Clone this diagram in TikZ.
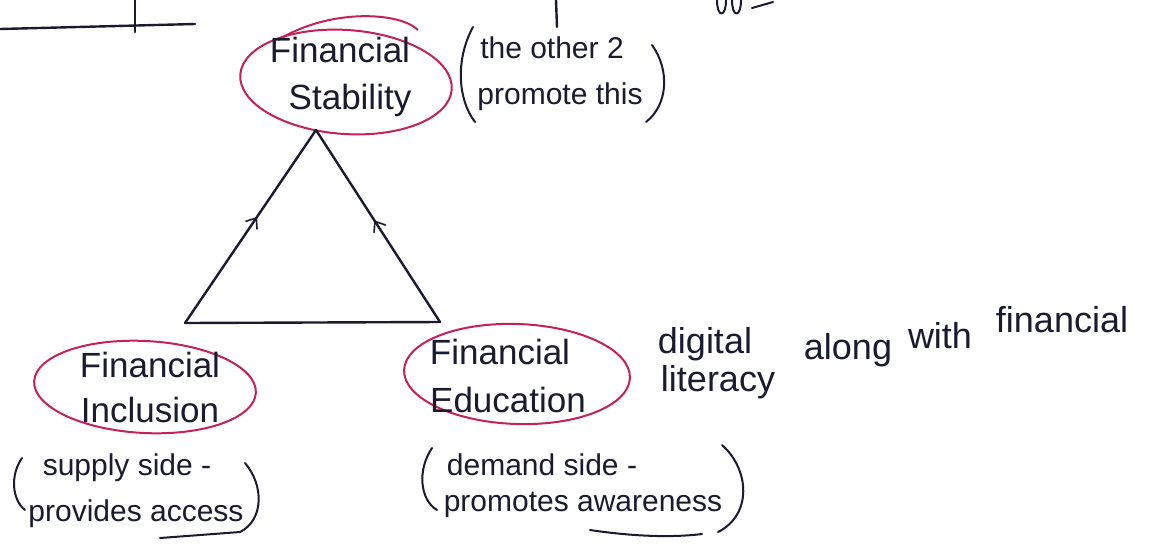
\documentclass[tikz,border=0pt]{standalone}
\usepackage{fontspec}
\setmainfont{Liberation Sans}
\usetikzlibrary{decorations.markings,arrows.meta,shapes.geometric}
\definecolor{ink}{HTML}{1A1A30}
\definecolor{rim}{HTML}{C4205A}
\tikzset{
  x=1pt,y=-1pt,
  hand/.style={text=ink,font=\fontsize{32}{36}\selectfont,inner sep=0pt,anchor=center},
  head/.style={hand,font=\fontsize{35}{40}\selectfont},
  note/.style={hand,font=\fontsize{30}{34}\selectfont},
  big/.style={hand,font=\fontsize{36}{40}\selectfont},
  ring/.style={draw=rim,line width=2pt},
  stroke/.style={draw=ink,line width=2.4pt,line cap=round,line join=round},
  midarrow/.style={postaction={decorate},decoration={markings,mark=at position #1 with {\arrow{Straight Barb[length=9pt,width=14pt,line width=1.6pt]}}}}
}
\begin{document}
\begin{tikzpicture}
\useasboundingbox[fill=white] (0,0) rectangle (1153,547);
% top fragments
\coordinate (ul1) at (0,29);
\coordinate (ul2) at (195,24);
\draw[stroke] (ul1) -- (ul2);
\coordinate (t1) at (135,0); \coordinate (t2) at (135,32);
\draw[stroke] (t1) -- (t2);
\coordinate (t3) at (556,0); \coordinate (t4) at (557,27);
\draw[stroke] (t3) -- (t4);
\coordinate (t5) at (717,0); \coordinate (t6) at (732,0);
\draw[stroke,line width=2pt] (t5) .. controls (717,18) and (726,18) .. (726,0);
\draw[stroke,line width=2pt] (t6) .. controls (732,18) and (741,18) .. (741,0);
\coordinate (t7) at (752,8); \coordinate (t8) at (773,2);
\draw[stroke,line width=2pt] (t7) -- (t8);

% Financial Stability
\node[ring,ellipse,minimum width=212pt,minimum height=104pt,rotate=-4] (fs) at (346,82) {};
\draw[ring] (278,40) .. controls (330,8) and (400,12) .. (418,30);
\node[head] (fs1) at (340,50) {Financial};
\node[head] (fs2) at (350,100) {Stability};
\node[note] (fsn1) at (552,48) {the other 2};
\node[note] (fsn2) at (560,97) {promote this};
\draw[stroke,line width=2pt] (473,27) .. controls (455,60) and (458,100) .. (475,122);
\draw[stroke,line width=2pt] (652,45) .. controls (670,70) and (668,105) .. (646,122);

% Financial Inclusion
\node[ring,ellipse,minimum width=222pt,minimum height=92pt,rotate=-3] (fi) at (145,387) {};
\node[head] (fi1) at (150,365) {Financial};
\node[head] (fi2) at (150,410) {Inclusion};
\node[note] (fin1) at (127,468) {supply side -};
\node[note] (fin2) at (136,514) {provides access};
\draw[stroke,line width=2pt] (22,458) .. controls (10,475) and (12,500) .. (25,510);
\draw[stroke,line width=2pt] (245,463) .. controls (264,485) and (264,520) .. (240,532);
\coordinate (u1a) at (160,538); \coordinate (u1b) at (240,532);
\draw[stroke,line width=2pt] (u1a) -- (u1b);

% Financial Education
\node[ring,ellipse,minimum width=226pt,minimum height=100pt,rotate=-2] (fe) at (517,374) {};
\node[head] (fe1) at (500,352) {Financial};
\node[head] (fe2) at (508,400) {Education};
\node[note] (fen1) at (542,465) {demand side -};
\node[note] (fen2) at (583,505) {promotes awareness};
\draw[stroke,line width=2pt] (432,448) .. controls (417,470) and (420,500) .. (437,510);
\draw[stroke,line width=2pt] (722,445) .. controls (750,470) and (752,515) .. (718,532);
\coordinate (u2a) at (590,530); \coordinate (u2b) at (702,534);
\draw[stroke,line width=2pt] (u2a) .. controls (630,536) and (670,538) .. (u2b);

% digital literacy note
\node[big] (d1) at (705,344) {digital};
\node[big] (d2) at (718,382) {literacy};
\node[big] (d3) at (848,350) {along};
\node[big] (d4) at (940,336) {with};
\node[big] (d5) at (1062,320) {financial};

% triangle
\coordinate (A) at (316,130);
\coordinate (B) at (185,323);
\coordinate (C) at (440,322);
\draw[stroke,midarrow=0.55] (B) -- (A);
\draw[stroke,midarrow=0.53] (C) -- (A);
\draw[stroke] (B) -- (C);
\end{tikzpicture}
\end{document}
